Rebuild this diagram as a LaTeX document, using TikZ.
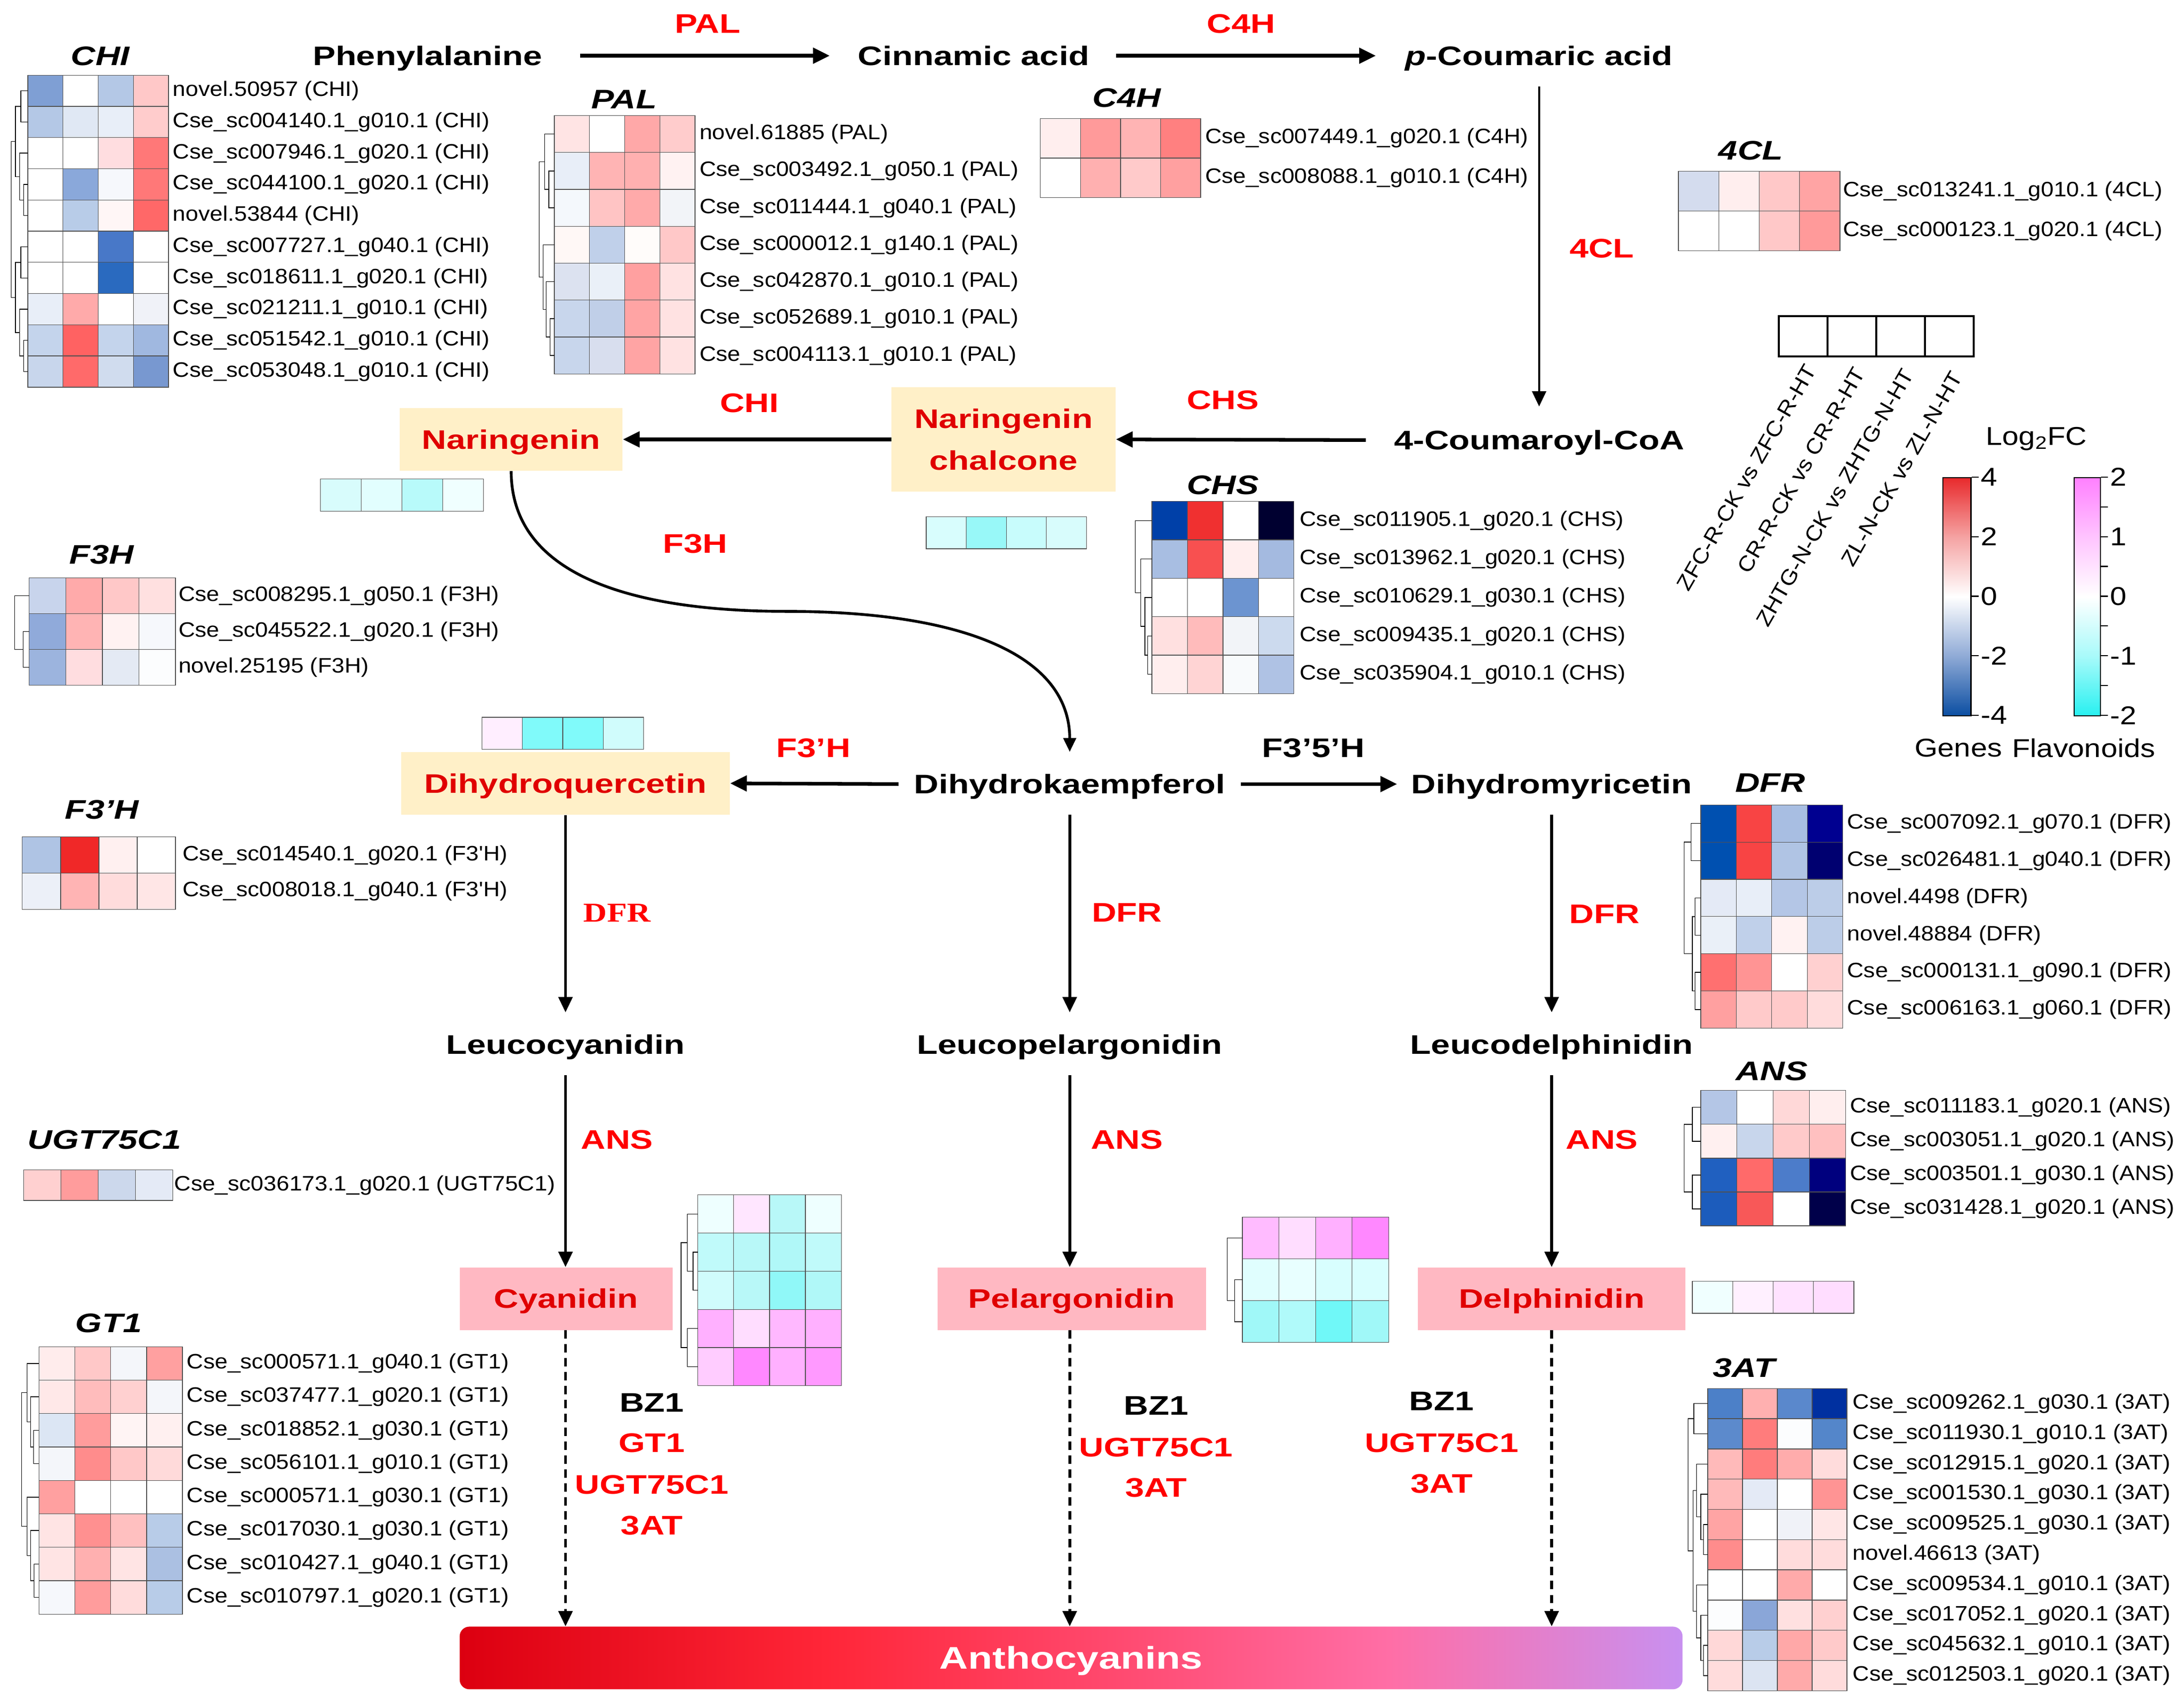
\documentclass[tikz,border=0pt]{standalone}
\usepackage{fontspec}
\setmainfont{Liberation Sans}
\newfontfamily\bfam{Liberation Sans}[FakeStretch=1.27]
\newfontfamily\rfam{Liberation Sans}[FakeStretch=1.1]
\newfontfamily\lfam{Liberation Sans}[FakeStretch=1.15]
\newfontfamily\sfam{Liberation Serif}[FakeStretch=1.2]
\usetikzlibrary{arrows.meta}

\definecolor{enz}{HTML}{FF0000}
\definecolor{cmpd}{HTML}{E00000}
\definecolor{ybox}{HTML}{FFF0C8}
\definecolor{pbox}{HTML}{FFB8C2}
\definecolor{cellgray}{HTML}{505050}
\definecolor{a1}{HTML}{DC0010}
\definecolor{a2}{HTML}{FF2638}
\definecolor{a3}{HTML}{FF4A70}
\definecolor{a4}{HTML}{FF6EA6}
\definecolor{a5}{HTML}{C890F0}
\definecolor{gb}{HTML}{0B4EA2}
\definecolor{gb2}{HTML}{8FAAD6}
\definecolor{gr2}{HTML}{F5A3A3}
\definecolor{gr}{HTML}{E82A2C}
\definecolor{fc}{HTML}{28F0F0}
\definecolor{fc2}{HTML}{A8FAFA}
\definecolor{fm2}{HTML}{FFC4FF}
\definecolor{fm}{HTML}{FF80FF}

\pgfdeclarehorizontalshading{anthsh}{100bp}{color(0bp)=(a1); color(25bp)=(a1); color(40bp)=(a2); color(52bp)=(a3); color(63bp)=(a4); color(75bp)=(a5); color(100bp)=(a5)}
\pgfdeclareverticalshading{gensh}{100bp}{color(0bp)=(gb); color(25bp)=(gb); color(37.5bp)=(gb2); color(50bp)=(white); color(62.5bp)=(gr2); color(75bp)=(gr); color(100bp)=(gr)}
\pgfdeclareverticalshading{flash}{100bp}{color(0bp)=(fc); color(25bp)=(fc); color(37.5bp)=(fc2); color(50bp)=(white); color(62.5bp)=(fm2); color(75bp)=(fm); color(100bp)=(fm)}

\tikzset{
  bt/.style={font=\bfam\bfseries\fontsize{19.3}{22}\selectfont, inner sep=0pt, text height=13.8pt, text depth=0pt},
  rl/.style={bt, text=enz},
  ti/.style={font=\bfam\bfseries\itshape\fontsize{19.3}{22}\selectfont, inner sep=0pt, text height=13.8pt, text depth=0pt},
  gl/.style={font=\rfam\fontsize{15}{17}\selectfont, inner sep=0pt, anchor=west},
  rot/.style={font=\rfam\fontsize{15.3}{17}\selectfont, inner sep=0pt, rotate=60, anchor=east},
  lg/.style={font=\lfam\fontsize{18.5}{21}\selectfont, inner sep=0pt},
  cell/.style={draw=cellgray, line width=0.45pt},
  dend/.style={draw=black, line width=0.5pt},
  arr/.style={line width=2pt, -{Triangle[length=11pt,width=10pt]}},
  harr/.style={line width=2.6pt, -{Triangle[length=12pt,width=11pt]}},
  darr/.style={arr, dash pattern=on 6pt off 4pt},
  curv/.style={line width=2pt, -{Triangle[length=10pt,width=9pt]}},
  ybx/.style={bt, fill=ybox, text=cmpd},
  pbx/.style={bt, fill=pbox, text=cmpd},
  anthbar/.style={shade, shading=anthsh, rounded corners=7pt, minimum width=878pt, minimum height=45pt, inner sep=0pt, text=white, font=\bfam\bfseries\fontsize{22.5}{26}\selectfont, text height=16pt, text depth=0pt},
}

\newcommand\heat[5]{%
  \foreach \rowc [count=\rr from 0] in {#5}{%
    \foreach \cc [count=\ii from 0] in \rowc {%
      \edef\tmpdef{\noexpand\definecolor{tmpc}{HTML}{\cc}}\tmpdef
      \filldraw[cell,fill=tmpc] ({#1+\ii*(#3)},{#2+\rr*(#4)}) rectangle ++(#3,#4);
    }}}
\newcommand\glab[5]{%
  \foreach \gtxt [count=\rr from 1] in {#5}{%
    \node[gl] (#4\rr) at (#1,{#2+(\rr-0.5)*(#3)}) {\gtxt};}}
\newcommand\brk[5]{\draw[dend] (#4,#2) -- (#1,#2) -- (#1,#3) -- (#5,#3);}

\begin{document}
\begin{tikzpicture}[x=1pt,y=-1pt]
\useasboundingbox (0,0) rectangle (1568,1221.4);

% ---------------- pathway compounds ----------------
\node[bt] (phe) at (307,40) {Phenylalanine};
\node[bt] (cin) at (699,40) {Cinnamic acid};
\node[bt] (pcou) at (1105,40) {{\itshape p}-Coumaric acid};
\node[bt] (cou) at (1105,316) {4-Coumaroyl-CoA};
\node[fill=ybox, text=cmpd, font=\bfam\bfseries\fontsize{19.3}{30}\selectfont, inner sep=0pt, minimum width=161pt, minimum height=75pt, align=center] (narch) at (720.5,315.5) {Naringenin\\chalcone};
\node[ybx, minimum width=160pt, minimum height=45pt] (nar) at (367,315.5) {Naringenin};
\node[bt] (dhk) at (768,563) {Dihydrokaempferol};
\node[ybx, minimum width=236pt, minimum height=45pt] (dhq) at (406,562.5) {Dihydroquercetin};
\node[bt] (dhm) at (1114,563) {Dihydromyricetin};
\node[bt] (lcy) at (406,750) {Leucocyanidin};
\node[bt] (lpe) at (768,750) {Leucopelargonidin};
\node[bt] (lde) at (1114,750) {Leucodelphinidin};
\node[pbx, minimum width=153pt, minimum height=45pt] (cya) at (406.5,932.5) {Cyanidin};
\node[pbx, minimum width=193pt, minimum height=45pt] (pel) at (769.5,932.5) {Pelargonidin};
\node[pbx, minimum width=192pt, minimum height=45pt] (del) at (1114,932.5) {Delphinidin};
\node[anthbar] (anth) at (769,1190.5) {Anthocyanins};

% ---------------- arrows ----------------
\draw[harr] ([xshift=27pt]phe.east) -- ([xshift=-20pt]cin.west);
\draw[harr] ([xshift=19pt]cin.east) -- ([xshift=-21pt]pcou.west);
\draw[arr, line width=1.6pt] ([yshift=-15pt]pcou.south) -- ([yshift=17pt]cou.north);
\draw[harr] ([xshift=-20pt]cou.west) -- (narch.east);
\draw[harr] (narch.west) -- (nar.east);
\coordinate (f3hmid) at (565,439);
\draw[curv] (nar.south) .. controls (367,420) and (470,439) .. (f3hmid) .. controls (690,439) and (768,470) .. ([yshift=16pt]dhk.north);
\draw[harr] ([xshift=-11pt]dhk.west) -- (dhq.east);
\draw[harr] ([xshift=11pt]dhk.east) -- ([xshift=-10pt]dhm.west);
\draw[arr] (dhq.south) -- ([yshift=16pt]lcy.north);
\draw[arr] ([yshift=-15pt]dhk.south) -- ([yshift=16pt]lpe.north);
\draw[arr] ([yshift=-15pt]dhm.south) -- ([yshift=16pt]lde.north);
\draw[arr] ([yshift=-15pt]lcy.south) -- (lcy.south |- cya.north);
\draw[arr] ([yshift=-15pt]lpe.south) -- (lpe.south |- pel.north);
\draw[arr] ([yshift=-15pt]lde.south) -- (lde.south |- del.north);
\draw[darr] (lcy.south |- cya.south) -- (lcy.south |- anth.north);
\draw[darr] (lpe.south |- pel.south) -- (lpe.south |- anth.north);
\draw[darr] (lde.south |- del.south) -- (lde.south |- anth.north);

% ---------------- enzyme labels ----------------
\node[rl] (ePAL) at (508,17) {PAL};
\node[rl] (eC4H) at (891,17) {C4H};
\node[rl] (e4CL) at (1150,178) {4CL};
\node[rl] (eCHS) at (878,287) {CHS};
\node[rl] (eCHI) at (538,289) {CHI};
\node[rl] (eF3H) at (499,390) {F3H};
\node[rl] (eF3pH) at (584,537) {F3’H};
\node[bt] (eF35H) at (943,537) {F3’5’H};
\node[rl, font=\sfam\bfseries\fontsize{19.5}{22}\selectfont] (eDFRa) at (443,655) {DFR};
\node[rl] (eDFRb) at (809,655) {DFR};
\node[rl] (eDFRc) at (1152,656) {DFR};
\node[rl] (eANSa) at (443,818) {ANS};
\node[rl] (eANSb) at (809,818) {ANS};
\node[rl] (eANSc) at (1150,818) {ANS};
\node[bt] (bza) at (468,1007) {BZ1};
\node[rl] (gta) at (468,1036) {GT1};
\node[rl] (uga) at (468,1066) {UGT75C1};
\node[rl] (ata) at (468,1095) {3AT};
\node[bt] (bzb) at (830,1009) {BZ1};
\node[rl] (ugb) at (830,1039) {UGT75C1};
\node[rl] (atb) at (830,1068) {3AT};
\node[bt] (bzc) at (1035,1006) {BZ1};
\node[rl] (ugc) at (1035,1036) {UGT75C1};
\node[rl] (atc) at (1035,1065) {3AT};

% ---------------- gene titles ----------------
\node[ti] (tCHI) at (72,40) {CHI};
\node[ti] (tPAL) at (448,71) {PAL};
\node[ti] (tC4H) at (809,70) {C4H};
\node[ti] (t4CL) at (1257,108) {4CL};
\node[ti] (tCHS) at (878,348) {CHS};
\node[ti] (tF3H) at (73,398) {F3H};
\node[ti] (tF3pH) at (73,581) {F3’H};
\node[ti] (tDFR) at (1271,562) {DFR};
\node[ti] (tANS) at (1272,769) {ANS};
\node[ti] (tUGT) at (75,818) {UGT75C1};
\node[ti] (tGT1) at (78,950) {GT1};
\node[ti] (t3AT) at (1252,982) {3AT};

% ---------------- CHI ----------------
\heat{20}{54}{25.25}{22.4}{{7F9FD4,FFFFFF,B4C8E6,FFC8C8},{B4C8E6,E0E8F4,E8EEF8,FFCCCC},{FFFFFF,FFFFFF,FFDDE0,FF7878},{FFFFFF,8AA8DA,F6F8FC,FF7878},{FFFFFF,B8CCE8,FFF6F6,FF6868},{FFFFFF,FFFFFF,4878C8,FFFFFF},{FFFFFF,FFFFFF,2A6ABF,FFFFFF},{E8EEF8,FFAAAA,FFFFFF,F0F2F8},{C4D4EC,FF6262,C4D4EC,A0B8E0},{C8D6EC,FF6A6A,D0DCEE,7898D0}}
\glab{124}{54}{22.4}{chi}{novel.50957 (CHI),Cse\_sc004140.1\_g010.1 (CHI),Cse\_sc007946.1\_g020.1 (CHI),Cse\_sc044100.1\_g020.1 (CHI),novel.53844 (CHI),Cse\_sc007727.1\_g040.1 (CHI),Cse\_sc018611.1\_g020.1 (CHI),Cse\_sc021211.1\_g010.1 (CHI),Cse\_sc051542.1\_g010.1 (CHI),Cse\_sc053048.1\_g010.1 (CHI)}
\brk{15}{65.2}{87.6}{20}{20}
\brk{17}{132.4}{154.8}{20}{20}
\brk{14}{110}{143.6}{20}{17}
\brk{11}{76.4}{126.8}{15}{14}
\brk{15}{177.2}{199.6}{20}{20}
\brk{17}{244.4}{266.8}{20}{20}
\brk{14}{222}{255.6}{20}{17}
\brk{11}{188.4}{238.8}{15}{14}
\brk{8}{101.6}{213.6}{11}{11}

% ---------------- PAL ----------------
\heat{398}{83}{25.25}{26.5}{{FFE4E4,FFFFFF,FFA8A8,FFCCCC},{E8EEF8,FFB4B4,FFB0B0,FFF2F2},{F4F8FC,FFC4C4,FFAAAA,F2F4F8},{FFF8F6,C0D0EA,FFFCFA,FFC8C8},{DCE2F0,EAF0F8,FFA0A0,FFE2E2},{C8D6EC,C0CFE8,FFA4A4,FFE2E2},{C8D6EC,D8DEEE,FFA4A4,FFE2E2}}
\glab{502}{83}{26.5}{pal}{novel.61885 (PAL),Cse\_sc003492.1\_g050.1 (PAL),Cse\_sc011444.1\_g040.1 (PAL),Cse\_sc000012.1\_g140.1 (PAL),Cse\_sc042870.1\_g010.1 (PAL),Cse\_sc052689.1\_g010.1 (PAL),Cse\_sc004113.1\_g010.1 (PAL)}
\brk{394}{122.75}{149.25}{398}{398}
\brk{391}{96.25}{136}{398}{394}
\brk{395}{228.75}{255.25}{398}{398}
\brk{392}{202.25}{242}{398}{395}
\brk{390}{175.75}{222.1}{398}{392}
\brk{387}{116.1}{198.9}{391}{390}

% ---------------- C4H ----------------
\heat{747}{85}{28.75}{28.5}{{FFEEEE,FF9A9A,FFB4B4,FF8080},{FFFFFF,FFB0B0,FFCACA,FFA0A0}}
\glab{865}{85}{28.5}{cfh}{Cse\_sc007449.1\_g020.1 (C4H),Cse\_sc008088.1\_g010.1 (C4H)}

% ---------------- 4CL ----------------
\heat{1205}{123}{29}{28.5}{{D4DCEE,FFEEEE,FFC8C8,FFA4A4},{FFFFFF,FFFFFF,FFC8C8,FF9A9A}}
\glab{1323}{123}{28.5}{fcl}{Cse\_sc013241.1\_g010.1 (4CL),Cse\_sc000123.1\_g020.1 (4CL)}

% ---------------- CHS ----------------
\heat{827}{360}{25.5}{27.6}{{0040A8,F03030,FFFFFF,000030},{A8BEE2,F85050,FFEEEE,A4BAE0},{FFFFFF,FFFFFF,6C94D0,FFFFFF},{FFE0E0,FFBBBB,F2F4F8,CCDAEE},{FFEEEE,FFD4D4,F8FAFC,AFC2E4}}
\glab{933}{360}{27.6}{chs}{Cse\_sc011905.1\_g020.1 (CHS),Cse\_sc013962.1\_g020.1 (CHS),Cse\_sc010629.1\_g030.1 (CHS),Cse\_sc009435.1\_g020.1 (CHS),Cse\_sc035904.1\_g010.1 (CHS)}
\brk{824}{456.6}{484.2}{827}{827}
\brk{822}{429}{470.4}{827}{824}
\brk{819}{401.4}{449.7}{827}{822}
\brk{815}{373.8}{425.55}{827}{819}

% ---------------- F3H ----------------
\heat{21}{415}{26.25}{25.7}{{C8D4EC,FFAAAA,FFC8C8,FFE0E0},{90AADA,FFB4B4,FFF2F2,F6F8FC},{9CB4DE,FFDDE0,E4EAF4,FCFDFE}}
\glab{128}{415}{25.7}{fth}{Cse\_sc008295.1\_g050.1 (F3H),Cse\_sc045522.1\_g020.1 (F3H),novel.25195 (F3H)}
\brk{16.5}{453.55}{479.25}{21}{21}
\brk{10.5}{427.85}{466.4}{21}{16.5}

% ---------------- F3'H ----------------
\heat{16}{601}{27.5}{26}{{AFC4E4,F02828,FFF0F0,FFFFFF},{ECF0F8,FFB4B4,FFDCDC,FFE6E6}}
\glab{131}{601}{26}{ftp}{Cse\_sc014540.1\_g020.1 (F3'H),Cse\_sc008018.1\_g040.1 (F3'H)}

% ---------------- DFR ----------------
\heat{1221}{578}{25.5}{26.7}{{0050B0,F84444,A8BEE2,000090},{0050B0,F84444,B0C4E4,000070},{E4EAF6,E8EEF8,B4C6E6,BCCDE8},{EAF0F8,C0D0EA,FFF2F2,BCCDE8},{FF7070,FF9494,FFFFFF,FFD0D0},{FFA0A0,FFCACA,FFCACA,FFDCDC}}
\glab{1326}{578}{26.7}{dfr}{Cse\_sc007092.1\_g070.1 (DFR),Cse\_sc026481.1\_g040.1 (DFR),novel.4498 (DFR),novel.48884 (DFR),Cse\_sc000131.1\_g090.1 (DFR),Cse\_sc006163.1\_g060.1 (DFR)}
\brk{1214}{591.35}{618.05}{1221}{1221}
\brk{1217}{644.75}{671.45}{1221}{1221}
\brk{1217}{698.15}{724.85}{1221}{1221}
\brk{1215}{658.1}{711.5}{1217}{1217}
\brk{1209}{604.7}{684.8}{1214}{1215}

% ---------------- ANS ----------------
\heat{1221}{783}{26}{24.3}{{B4C6E6,FFFFFF,FFD8D8,FFEEEE},{FFF0F0,C8D6EC,FFCACA,FFC0C0},{2060C0,FF6A6A,4C7CCA,00007E},{1C5CBC,F85858,FFFFFF,00004A}}
\glab{1328}{783}{24.3}{ans}{Cse\_sc011183.1\_g020.1 (ANS),Cse\_sc003051.1\_g020.1 (ANS),Cse\_sc003501.1\_g030.1 (ANS),Cse\_sc031428.1\_g020.1 (ANS)}
\brk{1215}{795.15}{819.45}{1221}{1221}
\brk{1215}{843.75}{868.05}{1221}{1221}
\brk{1209}{807.3}{855.9}{1215}{1215}

% ---------------- UGT75C1 ----------------
\heat{17}{840}{26.75}{22}{{FFD0D0,FF9C9C,CCD8EC,E4EAF6}}
\glab{125}{840}{22}{ugt}{Cse\_sc036173.1\_g020.1 (UGT75C1)}

% ---------------- GT1 ----------------
\heat{28}{967}{25.75}{24}{{FFECEC,FFC8C8,F4F6FA,FFA0A0},{FFE8E8,FFBCBC,FFD0D0,F4F6FA},{DCE6F4,FF9C9C,FFF4F4,FFF0F0},{F4F6FA,FF8C8C,FFC8C8,FFDADA},{FFA0A0,FFFFFF,FFFFFF,FFFFFF},{FFE4E4,FF9090,FFC0C0,B8CCE8},{FFE4E4,FFB0B0,FFE4E4,ABC0E2},{F6F8FC,FF9C9C,FFDCDC,B8CCE8}}
\glab{134}{967}{24}{gto}{Cse\_sc000571.1\_g040.1 (GT1),Cse\_sc037477.1\_g020.1 (GT1),Cse\_sc018852.1\_g030.1 (GT1),Cse\_sc056101.1\_g010.1 (GT1),Cse\_sc000571.1\_g030.1 (GT1),Cse\_sc017030.1\_g030.1 (GT1),Cse\_sc010427.1\_g040.1 (GT1),Cse\_sc010797.1\_g020.1 (GT1)}
\brk{24}{1027}{1051}{28}{28}
\brk{22}{1003}{1039}{28}{24}
\brk{19.5}{979}{1021}{28}{22}
\brk{24.5}{1123}{1147}{28}{28}
\brk{22}{1099}{1135}{28}{24.5}
\brk{19.5}{1075}{1117}{28}{22}
\brk{15.5}{1000}{1096}{19.5}{19.5}

% ---------------- 3AT ----------------
\heat{1226}{997}{25}{21.7}{{4C80C8,FFB0B0,5A88CC,0030A0},{5C8ACC,FF7C7C,FCFDFE,5486CA},{FFBABA,FF7C7C,FFACAC,FFDCDC},{FFBABA,E4EAF6,FFFFFF,FF9494},{FFA4A4,FFFFFF,F0F2F8,FFE6E6},{FF8C8C,FFFFFF,FFDCDC,FFDCDC},{FFFFFF,FFFFFF,FFAAAA,FFFFFF},{FCFDFE,8AA6D8,FFE0E0,FFD0D0},{FFD8D8,B8CCE8,FFA8A8,FFCACA},{FFDCDC,DCE4F2,FFAAAA,FFDCDC}}
\glab{1330}{997}{21.7}{tat}{Cse\_sc009262.1\_g030.1 (3AT),Cse\_sc011930.1\_g010.1 (3AT),Cse\_sc012915.1\_g020.1 (3AT),Cse\_sc001530.1\_g030.1 (3AT),Cse\_sc009525.1\_g030.1 (3AT),novel.46613 (3AT),Cse\_sc009534.1\_g010.1 (3AT),Cse\_sc017052.1\_g020.1 (3AT),Cse\_sc045632.1\_g010.1 (3AT),Cse\_sc012503.1\_g020.1 (3AT)}
\brk{1216}{1007.85}{1029.55}{1226}{1226}
\brk{1223}{1094.65}{1116.35}{1226}{1226}
\brk{1221}{1072.95}{1105.5}{1226}{1223}
\brk{1218}{1051.25}{1089.2}{1226}{1221}
\brk{1223}{1181.45}{1203.15}{1226}{1226}
\brk{1221}{1159.75}{1192.3}{1226}{1223}
\brk{1218}{1138.05}{1176}{1226}{1221}
\brk{1215.5}{1070.2}{1157}{1218}{1218}
\brk{1212}{1018.7}{1113.6}{1216}{1215.5}

% ---------------- flavonoid heatmaps ----------------
\heat{230}{344}{29.25}{23}{{D8FCFC,E2FEFE,B8FAFA,F0FFFF}}
\heat{665}{371}{28.75}{23}{{D8FDFD,98F8F8,C8FCFC,D8FCFC}}
\heat{346}{515}{29}{23}{{FFEEFF,80FAFA,80FAFA,D0FCFC}}
\heat{1215}{920}{29}{23}{{F0FFFF,FFF0FF,FFE2FF,FFDDFF}}
\heat{501}{858}{25.75}{27.4}{{EEFFFF,FFE6FF,B8F8F8,EEFFFF},{C0FAFA,B8F8F8,B0F8F8,C0FAFA},{D0FCFC,B8F8F8,90F8F8,B0F8F8},{FFB0FF,FFDDFF,FFB8FF,FFB0FF},{FFCCFF,FF88FF,FFB0FF,FF99FF}}
\brk{497.5}{899.1}{926.5}{501}{501}
\brk{493.5}{871.7}{912.8}{501}{497.5}
\brk{493.5}{953.9}{981.3}{501}{501}
\brk{489}{892.25}{967.6}{493.5}{493.5}
\heat{892}{874}{26.25}{30}{{FFBBFF,FFDDFF,FFB0FF,FF88FF},{E0FEFE,E8FFFF,D8FEFE,D8FEFE},{A0F8F8,B0FAFA,70F8F8,A0F8F8}}
\brk{886.5}{919}{949}{892}{892}
\brk{881}{889}{934}{892}{886.5}

% ---------------- legend ----------------
\foreach \i in {0,...,3}{\draw[line width=1.6pt] ({1277+35*\i},227) rectangle ++(35,29);}
\node[rot] (cmpa) at (1300,263) {ZFC-R-CK vs ZFC-R-HT};
\node[rot] (cmpb) at (1335,265) {CR-R-CK vs CR-R-HT};
\node[rot] (cmpc) at (1370,266) {ZHTG-N-CK vs ZHTG-N-HT};
\node[rot] (cmpd) at (1405,268) {ZL-N-CK vs ZL-N-HT};
\node[lg] (lgt) at (1462,315) {Log\textsubscript{2}FC};
\node[draw, line width=0.8pt, shade, shading=gensh, minimum width=20pt, minimum height=171pt, inner sep=0pt] (gbar) at (1405,428.5) {};
\node[draw, line width=0.8pt, shade, shading=flash, minimum width=19pt, minimum height=171pt, inner sep=0pt] (fbar) at (1498.5,428.5) {};
\foreach \v [count=\k from 0] in {4,2,0,-2,-4}{
  \draw[line width=0.8pt] (gbar.north east) ++(0,{\k*42.75}) -- ++(5,0) node[lg, anchor=west, xshift=1.5pt] (gtk\k) {\v};}
\foreach \k in {0,...,8}{\draw[line width=0.8pt] (fbar.north east) ++(0,{\k*21.375}) -- ++(5,0);}
\foreach \v [count=\k from 0] in {2,1,0,-1,-2}{
  \node[lg, anchor=west] (ftk\k) at ([xshift=6.5pt,yshift={-\k*42.75pt}]fbar.north east) {\v};}
\node[lg] (lgg) at (1406,537) {Genes};
\node[lg] (lgf) at (1496,537) {Flavonoids};
\end{tikzpicture}
\end{document}
